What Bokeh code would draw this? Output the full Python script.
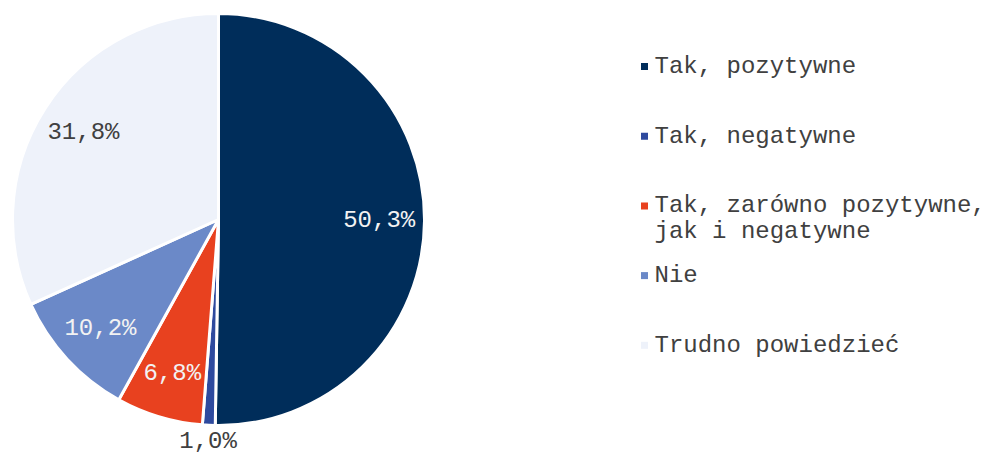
import math
from bokeh.plotting import figure
from bokeh.models import Range1d, ColumnDataSource
from bokeh.core.properties import value
from bokeh.embed import file_html
from bokeh.resources import INLINE

categories = ["Tak, pozytywne", "Tak, negatywne", "Tak, zarówno pozytywne,\njak i negatywne", "Nie", "Trudno powiedzieć"]
values = [50.3, 1.0, 6.8, 10.2, 31.8]
value_labels = ["50,3%", "1,0%", "6,8%", "10,2%", "31,8%"]
colors = ["#002D5A", "#2E4A9E", "#E8411F", "#6B89C8", "#EEF2FA"]
label_colors = ["#F2F2F2", "#404040", "#F2F2F2", "#F2F2F2", "#404040"]

W, H = 987, 455
FONT = value("Liberation Mono")
FS = "24px"

p = figure(width=W, height=H, output_backend="svg", toolbar_location=None,
           x_range=Range1d(0, W), y_range=Range1d(0, H),
           x_axis_location=None, y_axis_location=None, min_border=0)
p.grid.visible = False
p.outline_line_color = None

cx, cy, r = 218, 236, 206
total = sum(values)
starts, ends, lx, ly = [], [], [], []
cum = 0.0
for v in values:
    a0 = math.pi / 2 - cum / total * 2 * math.pi
    cum += v
    a1 = math.pi / 2 - cum / total * 2 * math.pi
    starts.append(a0)
    ends.append(a1)
    mid = (a0 + a1) / 2
    rr = r * 0.78 if v / total > 0.03 else r + 16
    lx.append(cx + rr * math.cos(mid))
    ly.append(cy + rr * math.sin(mid))

src = ColumnDataSource(dict(start=starts, end=ends, color=colors))
p.wedge(x=cx, y=cy, radius=r, start_angle="start", end_angle="end", direction="clock",
        fill_color="color", line_color="white", line_width=3, source=src)

p.text(x=lx, y=ly, text=value_labels, text_color=label_colors, text_font=FONT,
       text_font_size=FS, text_align="center", text_baseline="middle")

# legend
lg_x, lg_top, lg_step, line_h = 644, 389, 69.7, 26
sq_x, sq_y, sq_c, tx, ty, tt = [], [], [], [], [], []
for i, (cat, c) in enumerate(zip(categories, colors)):
    y0 = lg_top - i * lg_step
    sq_x.append(lg_x)
    sq_y.append(y0)
    sq_c.append(c)
    for k, line in enumerate(cat.split("\n")):
        tx.append(lg_x + 10)
        ty.append(y0 - k * line_h)
        tt.append(line)
p.scatter(x=sq_x, y=sq_y, marker="square", size=7, fill_color=sq_c, line_color=None)
p.text(x=tx, y=ty, text=tt, text_color="#404040", text_font=FONT, text_font_size=FS,
       text_align="left", text_baseline="middle")

open("out.html", "w").write(file_html(p, INLINE))
